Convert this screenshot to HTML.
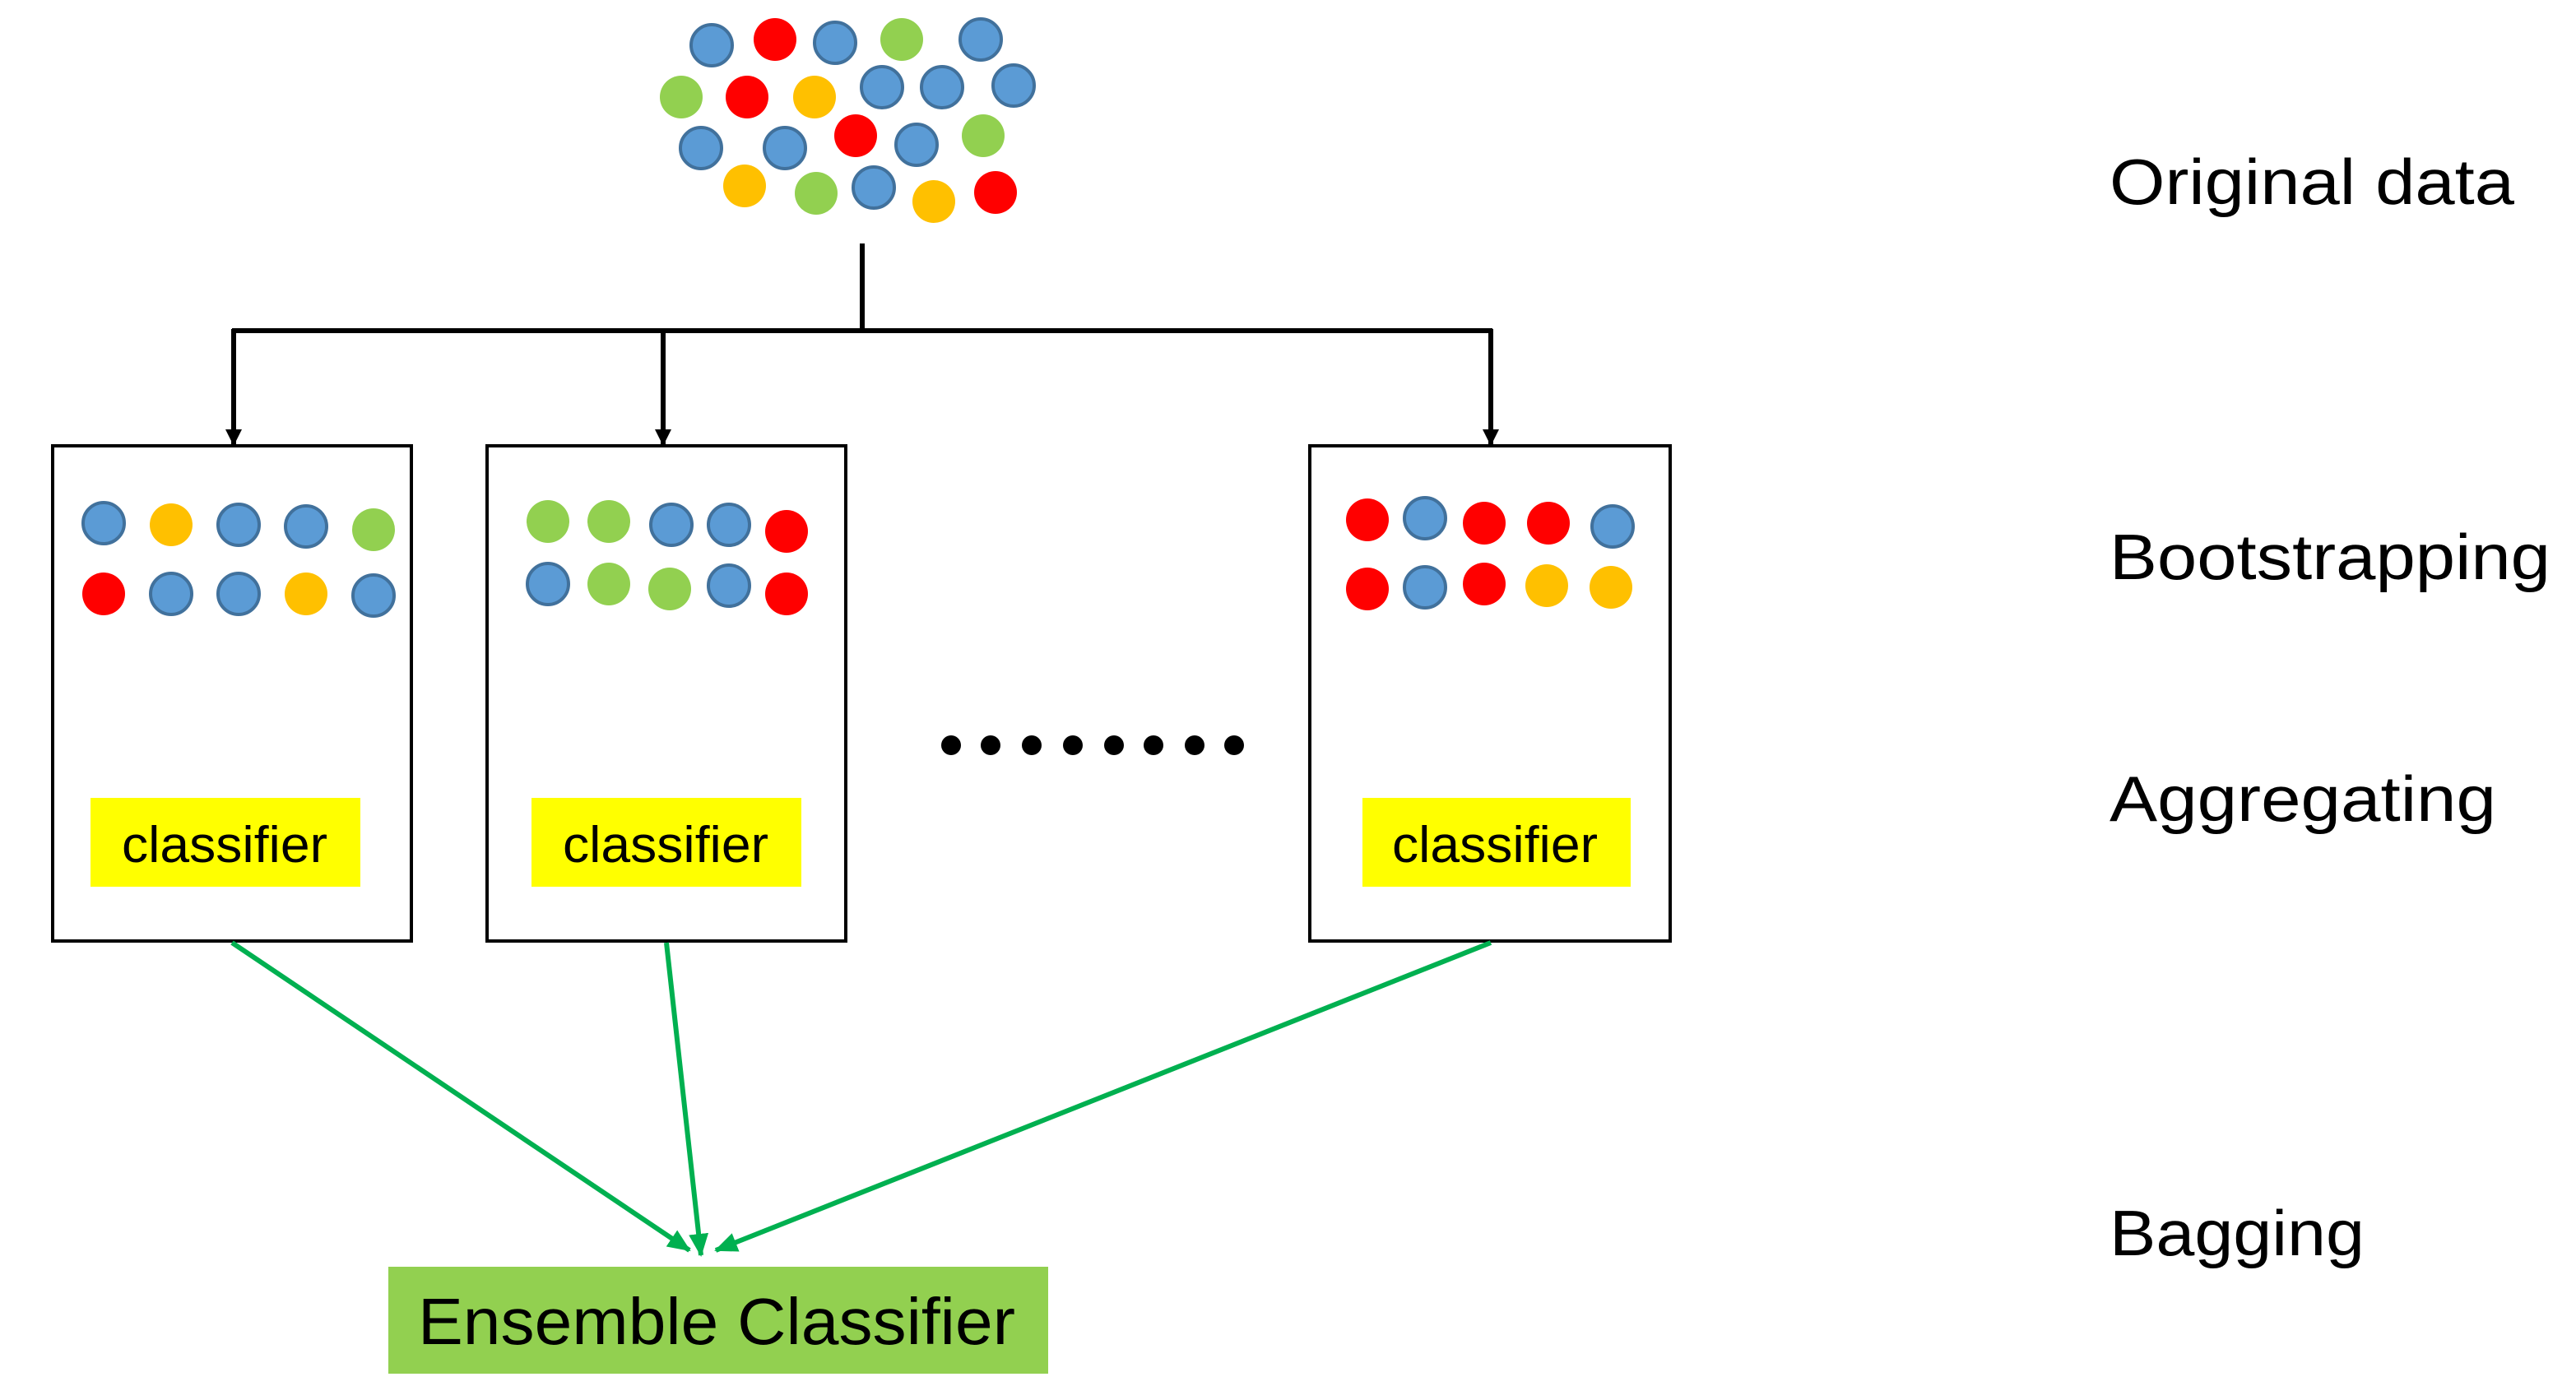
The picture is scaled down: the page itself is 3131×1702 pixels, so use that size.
<!DOCTYPE html>
<html><head><meta charset="utf-8"><style>html,body{margin:0;padding:0;background:#fff}svg{display:block}</style></head>
<body>
<svg width="3131" height="1702" viewBox="0 0 1565.5 851" xmlns="http://www.w3.org/2000/svg" font-family="'Liberation Sans', 'DejaVu Sans', sans-serif">
<defs>
<marker id="ab" markerWidth="10" markerHeight="10" refX="9" refY="5" orient="auto" markerUnits="userSpaceOnUse"><path d="M0,0 L10,5 L0,10 z" fill="#000"/></marker>
<marker id="ag" markerWidth="14" markerHeight="12" refX="13" refY="6" orient="auto" markerUnits="userSpaceOnUse"><path d="M0,0 L14,6 L0,12 z" fill="#00b050"/></marker>
<g id="B"><circle r="12.5" fill="#5b9bd5" stroke="#41719c" stroke-width="2"/></g>
<g id="R"><circle r="13" fill="#ff0000"/></g>
<g id="G"><circle r="13" fill="#92d050"/></g>
<g id="Y"><circle r="13" fill="#ffc000"/></g>
</defs>
<use href="#B" x="432.5" y="27.5"/><use href="#R" x="471" y="24"/><use href="#B" x="507.5" y="26"/><use href="#G" x="548" y="24"/><use href="#B" x="596" y="24"/>
<use href="#G" x="414" y="59"/><use href="#R" x="454" y="59"/><use href="#Y" x="495" y="59"/><use href="#B" x="536" y="53"/><use href="#B" x="572.5" y="53"/><use href="#B" x="616" y="52"/>
<use href="#B" x="426" y="90"/><use href="#B" x="477" y="90"/><use href="#R" x="520" y="82.5"/><use href="#B" x="557" y="88"/><use href="#G" x="597.5" y="82.5"/>
<use href="#Y" x="452.5" y="113"/><use href="#G" x="496" y="117.5"/><use href="#B" x="531" y="114"/><use href="#Y" x="567.5" y="122.5"/><use href="#R" x="605" y="117"/>
<g stroke="#000" stroke-width="3" fill="none">
<line x1="524" y1="148" x2="524" y2="201"/>
<line x1="141" y1="201" x2="907" y2="201"/>
<line x1="142" y1="200" x2="142" y2="270" marker-end="url(#ab)"/>
<line x1="403" y1="200" x2="403" y2="270" marker-end="url(#ab)"/>
<line x1="906" y1="200" x2="906" y2="270" marker-end="url(#ab)"/>
</g>
<g fill="#fff" stroke="#000" stroke-width="2">
<rect x="32" y="271" width="218" height="301"/>
<rect x="296" y="271" width="218" height="301"/>
<rect x="796" y="271" width="219" height="301"/>
</g>
<g fill="#ffff00">
<rect x="55" y="485" width="164" height="54"/>
<rect x="323" y="485" width="164" height="54"/>
<rect x="828" y="485" width="163" height="54"/>
</g>
<g font-size="31" fill="#000">
<text x="74" y="524" textLength="125" lengthAdjust="spacingAndGlyphs">classifier</text>
<text x="342" y="524" textLength="125" lengthAdjust="spacingAndGlyphs">classifier</text>
<text x="846" y="524" textLength="125" lengthAdjust="spacingAndGlyphs">classifier</text>
</g>
<use href="#B" x="63" y="318"/><use href="#Y" x="104" y="319"/><use href="#B" x="145" y="319"/><use href="#B" x="186" y="320"/><use href="#G" x="227" y="322"/>
<use href="#R" x="63" y="361"/><use href="#B" x="104" y="361"/><use href="#B" x="145" y="361"/><use href="#Y" x="186" y="361"/><use href="#B" x="227" y="362"/>
<use href="#G" x="333" y="317"/><use href="#G" x="370" y="317"/><use href="#B" x="408" y="319"/><use href="#B" x="443" y="319"/><use href="#R" x="478" y="323"/>
<use href="#B" x="333" y="355"/><use href="#G" x="370" y="355"/><use href="#G" x="407" y="358"/><use href="#B" x="443" y="356"/><use href="#R" x="478" y="361"/>
<use href="#R" x="831" y="316"/><use href="#B" x="866" y="315"/><use href="#R" x="902" y="318"/><use href="#R" x="941" y="318"/><use href="#B" x="980" y="320"/>
<use href="#R" x="831" y="358"/><use href="#B" x="866" y="357"/><use href="#R" x="902" y="355"/><use href="#Y" x="940" y="356"/><use href="#Y" x="979" y="357"/>
<g fill="#000">
<circle cx="578" cy="453" r="6"/><circle cx="602" cy="453" r="6"/><circle cx="627" cy="453" r="6"/><circle cx="652" cy="453" r="6"/><circle cx="677" cy="453" r="6"/><circle cx="701" cy="453" r="6"/><circle cx="726" cy="453" r="6"/><circle cx="750" cy="453" r="6"/>
</g>
<g stroke="#00b050" stroke-width="3" fill="none">
<line x1="141" y1="573" x2="419" y2="760" marker-end="url(#ag)"/>
<line x1="405" y1="573" x2="426" y2="763" marker-end="url(#ag)"/>
<line x1="906" y1="573" x2="435" y2="760" marker-end="url(#ag)"/>
</g>
<rect x="236" y="770" width="401" height="65" fill="#92d050"/>
<text x="254" y="817" font-size="40" fill="#000" textLength="363" lengthAdjust="spacingAndGlyphs">Ensemble Classifier</text>
<g font-size="39" fill="#000">
<text x="1282" y="124" textLength="246" lengthAdjust="spacingAndGlyphs">Original data</text>
<text x="1282" y="352" textLength="268" lengthAdjust="spacingAndGlyphs">Bootstrapping</text>
<text x="1282" y="499" textLength="235" lengthAdjust="spacingAndGlyphs">Aggregating</text>
<text x="1282" y="763" textLength="155" lengthAdjust="spacingAndGlyphs">Bagging</text>
</g>
</svg>
</body></html>
